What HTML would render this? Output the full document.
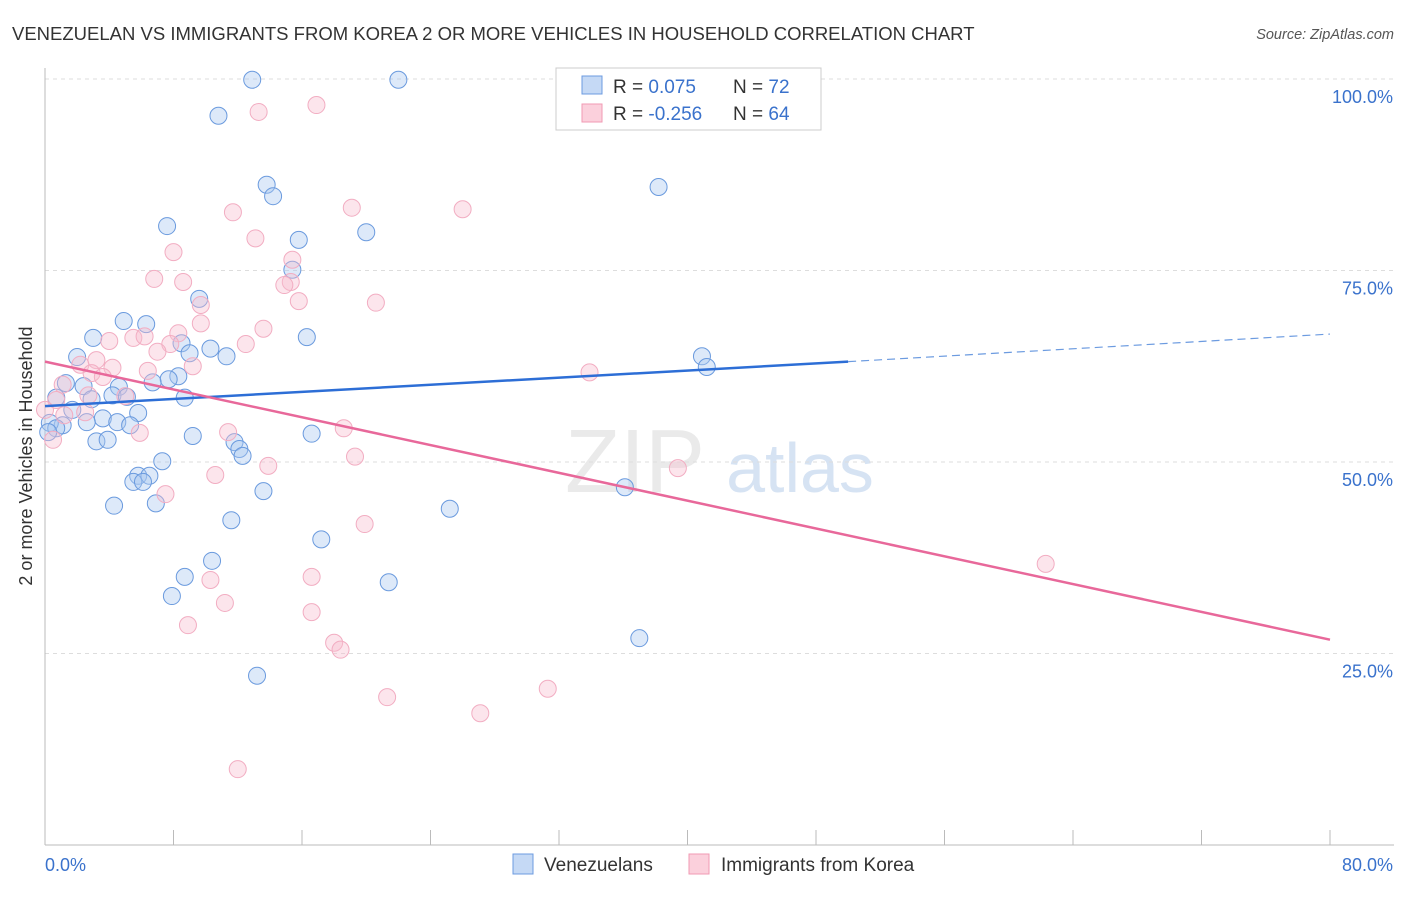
<!DOCTYPE html>
<html><head><meta charset="utf-8"><style>
body{margin:0;background:#fff;font-family:"Liberation Sans",sans-serif}
svg text{font-family:"Liberation Sans",sans-serif}
</style></head><body>
<svg id="c" width="1406" height="892">
<text x="12" y="40" font-size="18.5" fill="#333">VENEZUELAN VS IMMIGRANTS FROM KOREA 2 OR MORE VEHICLES IN HOUSEHOLD CORRELATION CHART</text>
<text x="1394" y="39" font-size="14.5" fill="#555" font-style="italic" text-anchor="end">Source: ZipAtlas.com</text>
<text x="32" y="456" font-size="18" fill="#333" text-anchor="middle" transform="rotate(-90 32 456)">2 or more Vehicles in Household</text>
<text x="635" y="492" font-size="90" fill="#ddd" font-family="Liberation Serif" text-anchor="middle" opacity="0.6">ZIP</text>
<text x="800" y="492" font-size="70" fill="#c6d8ef" text-anchor="middle" opacity="0.7">atlas</text>
<g id="grid"></g><g id="pts"></g><g id="lines"></g>
<g>
<rect x="556" y="68" width="265" height="62" fill="#fff" stroke="#ccc"/>
<rect x="582" y="76" width="20" height="18" fill="#c5d9f5" stroke="#6c9be0"/>
<rect x="582" y="104" width="20" height="18" fill="#fbd0dc" stroke="#f09ab3"/>
<text x="613" y="93" font-size="19" fill="#333">R = <tspan fill="#3a72cc">0.075</tspan></text>
<text x="733" y="93" font-size="19" fill="#333">N = <tspan fill="#3a72cc">72</tspan></text>
<text x="613" y="120" font-size="19" fill="#333">R = <tspan fill="#3a72cc">-0.256</tspan></text>
<text x="733" y="120" font-size="19" fill="#333">N = <tspan fill="#3a72cc">64</tspan></text>
</g>
<g>
<rect x="513" y="854" width="20" height="20" fill="#c5d9f5" stroke="#6c9be0"/>
<text x="544" y="871" font-size="19" fill="#333">Venezuelans</text>
<rect x="689" y="854" width="20" height="20" fill="#fbd0dc" stroke="#f09ab3"/>
<text x="721" y="871" font-size="19" fill="#333">Immigrants from Korea</text>
</g>
</svg>
<script>
const blueX=[12.9,22.0,10.8,13.8,14.2,38.2,7.6,20.0,15.8,15.4,9.6,4.9,6.3,3.0,16.3,8.5,10.3,9.0,11.3,2.0,40.9,41.2,8.3,7.7,6.7,1.3,2.4,4.6,4.2,8.7,2.9,5.1,0.7,5.8,1.7,3.6,2.6,4.5,5.3,1.1,0.3,0.7,0.2,9.2,16.6,3.2,3.9,11.8,12.1,12.3,7.3,5.8,6.5,5.5,6.1,13.6,36.1,4.3,6.9,25.2,11.6,17.2,10.4,8.7,21.4,7.9,37.0,13.2];
const blueY=[99.9,99.9,95.2,86.2,84.7,85.9,80.8,80.0,79.0,75.1,71.3,68.4,68.0,66.2,66.3,65.5,64.8,64.2,63.8,63.7,63.8,62.4,61.2,60.8,60.4,60.3,59.9,59.8,58.7,58.4,58.2,58.5,58.4,56.4,56.8,55.7,55.2,55.2,54.8,54.8,55.1,54.4,53.9,53.4,53.7,52.7,52.9,52.6,51.7,50.8,50.1,48.2,48.2,47.4,47.4,46.2,46.7,44.3,44.6,43.9,42.4,39.9,37.1,35.0,34.3,32.5,27.0,22.1];
const pinkX=[16.9,13.3,19.1,26.0,11.7,13.1,8.0,6.8,8.6,15.4,15.3,14.9,9.7,15.8,20.6,9.7,13.6,8.3,4.0,5.5,6.2,7.8,12.5,7.0,3.2,4.2,9.2,2.2,6.4,2.9,33.9,3.6,1.1,5.0,0.7,2.5,1.2,0.0,5.9,11.4,18.6,0.5,19.3,13.9,39.4,10.6,7.5,19.9,62.3,10.3,16.6,11.2,16.6,8.9,18.0,18.4,21.3,31.3,27.1,12.0,2.7];
const pinkY=[96.6,95.7,83.2,83.0,82.6,79.2,77.4,73.9,73.5,76.4,73.5,73.1,70.5,71.0,70.8,68.1,67.4,66.8,65.8,66.2,66.4,65.4,65.4,64.4,63.3,62.3,62.5,62.7,61.9,61.6,61.7,61.1,60.1,58.6,58.1,56.5,56.1,56.8,53.8,53.9,54.4,52.9,50.7,49.5,49.2,48.3,45.8,41.9,36.7,34.6,35.0,31.6,30.4,28.7,26.4,25.5,19.3,20.4,17.2,9.9,58.7];
const yTicks=[25,50,75,100];
const xTicks=[0,8,16,24,32,40,48,56,64,72,80];
const blueTrend=[57.3,63.1,66.7]; // y at x=0, 50, 80
const pinkTrend=[63.1,26.8]; // y at x=0, 80
const NS='http://www.w3.org/2000/svg';
const X=v=>45+v/80*1285, Y=v=>845-v/100*766;
function mk(t,a,p){const e=document.createElementNS(NS,t);for(const k in a)e.setAttribute(k,a[k]);p.appendChild(e);return e;}
const g=document.getElementById('grid');
yTicks.forEach(t=>{
 const l=mk('line',{x1:45,x2:1394,y1:Y(t),y2:Y(t),stroke:'#ddd','stroke-dasharray':'4,4'},g);
 
 
 const tx=mk('text',{x:1393,y:Y(t)+24,'font-size':18,fill:'#3a72cc','text-anchor':'end'},g);
 tx.textContent=t.toFixed(1)+'%';
 
 
});
const ax=mk('line',{x1:45,x2:1394,y1:845,y2:845,stroke:'#bbb'},g);


const ay=mk('line',{x1:45,x2:45,y1:68,y2:845,stroke:'#bbb'},g);


xTicks.forEach((t,i)=>{
 const l=mk('line',{x1:X(t),x2:X(t),y1:830,y2:845,stroke:'#bbb'},g);
 
 
});
[[0,'0.0%','start',45],[80,'80.0%','end',1393]].forEach(a=>{
 const tx=mk('text',{x:a[3],y:871,'font-size':18,fill:'#3a72cc','text-anchor':a[2]},g);
 tx.textContent=a[1];
 
 
});
const p=document.getElementById('pts');
blueX.forEach((x,i)=>{
 const c=mk('circle',{cx:X(x),cy:Y(blueY[i]),r:8.5,fill:'rgba(170,200,240,0.4)',stroke:'#6a9ade','stroke-width':1},p);
 
 
});
pinkX.forEach((x,i)=>{
 const c=mk('circle',{cx:X(x),cy:Y(pinkY[i]),r:8.5,fill:'rgba(248,190,208,0.4)',stroke:'#f2adc2','stroke-width':1},p);
 
 
});
const L=document.getElementById('lines');
const b1=mk('line',{x1:X(0),y1:Y(blueTrend[0]),x2:X(50),y2:Y(blueTrend[1]),stroke:'#2d6ed6','stroke-width':2.5},L);


const b2=mk('line',{x1:X(50),y1:Y(blueTrend[1]),x2:X(80),y2:Y(blueTrend[2]),stroke:'#6c9be0','stroke-width':1.2,'stroke-dasharray':'8,5'},L);


const p1=mk('line',{x1:X(0),y1:Y(pinkTrend[0]),x2:X(80),y2:Y(pinkTrend[1]),stroke:'#e8689a','stroke-width':2.5},L);


</script>
</body></html>
